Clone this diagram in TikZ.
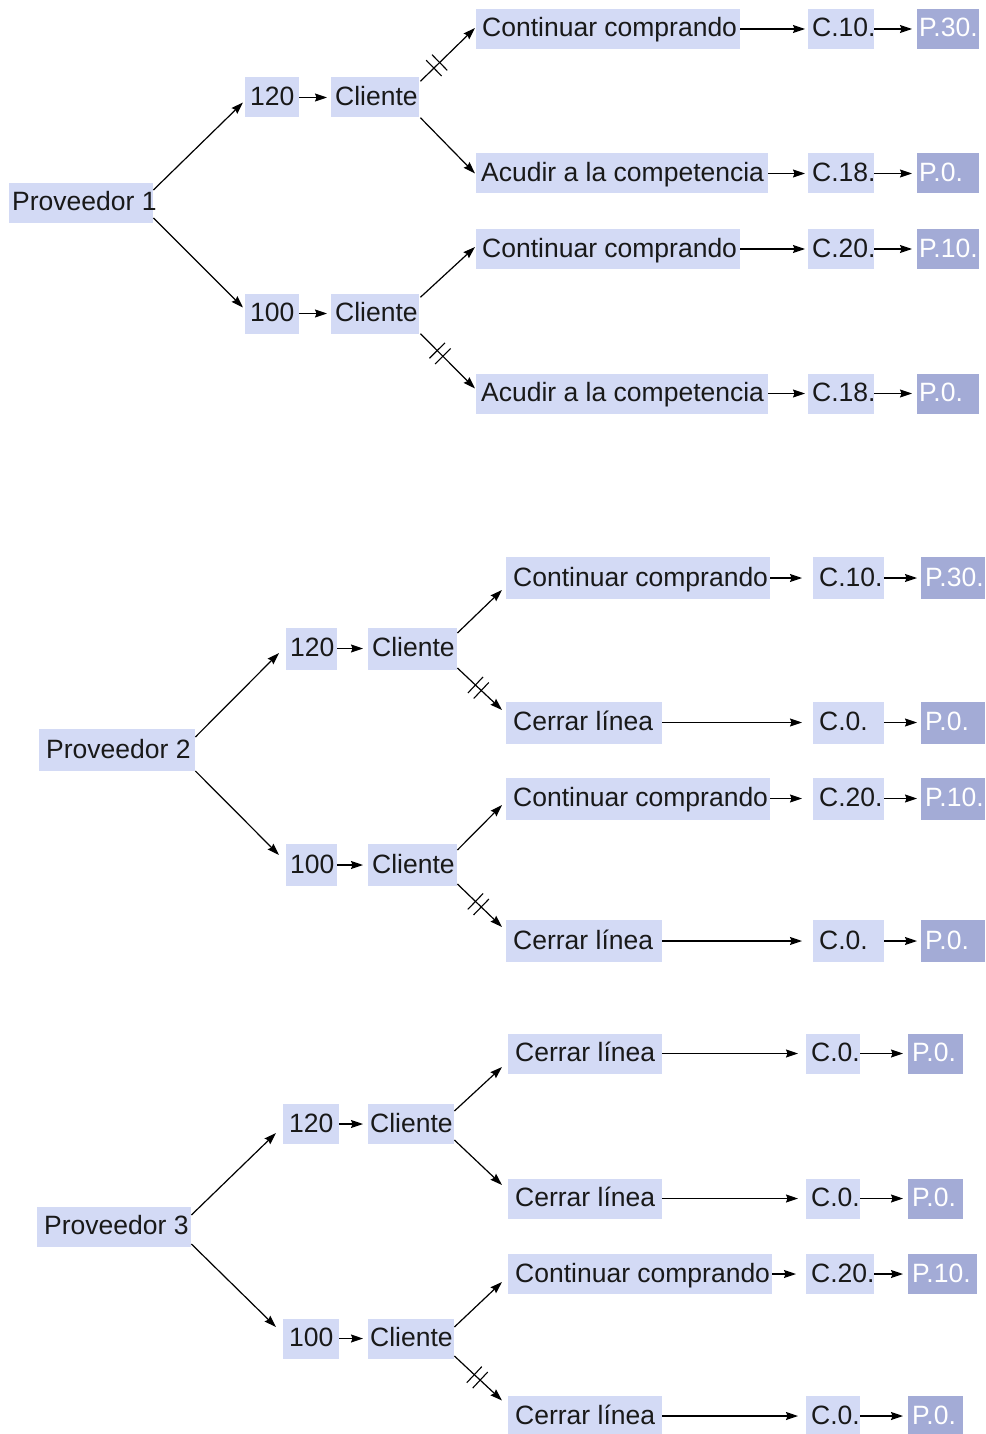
\documentclass[tikz,border=0pt]{standalone}
\usepackage{fontspec}
\setmainfont{Liberation Sans}
\usetikzlibrary{arrows.meta,calc,decorations.markings}
\definecolor{boxc}{RGB}{211,218,245}
\definecolor{pboxc}{RGB}{163,171,214}
\definecolor{txtc}{RGB}{25,25,25}
% #1 padding, #2 name, #3 x, #4 y(center), #5 width, #6 style, #7 text
\newcommand\bx[7][6]{\node[#6, inner xsep=#1pt, minimum width=#5pt] (#2) at (#3,#4) {\hbox to \dimexpr#5pt-#1pt-#1pt\relax{#7\hss}};}
\tikzset{
  box/.style={fill=boxc, anchor=west, inner ysep=0pt, minimum height=40pt,
    text height=20pt, text depth=4pt, text=txtc, font=\fontsize{26.5}{30}\selectfont},
  boxt/.style={box, minimum height=42pt},
  pbox/.style={box, fill=pboxc, text=white},
  pboxt/.style={pbox, minimum height=42pt},
  arr/.style={line width=1.2pt, -{Stealth[length=12pt,width=8pt,inset=1.5pt]}},
  cut/.style={postaction={decorate, decoration={markings, mark=at position #1 with
    {\draw[line width=1.1pt, -, shorten >=0pt, shorten <=0pt] (-4pt,-11pt)--(-4pt,11pt) (4pt,-11pt)--(4pt,11pt);}}}}
}
\begin{document}
\begin{tikzpicture}[x=1pt, y=-1pt]
\fill[white] (0,0) rectangle (985,1434);
\useasboundingbox (0,0) rectangle (985,1434);

% ---------- Tree 1 ----------
\bx[3]{p1}{9}{203}{144}{box}{Proveedor 1}
\bx[5]{a1}{245}{97.5}{54}{box}{120}
\bx[4]{c1}{331}{97.5}{88}{box}{Cliente}
\bx[5]{a2}{245}{313.5}{54}{box}{100}
\bx[4]{c2}{331}{313.5}{88}{box}{Cliente}
\bx[6]{t1}{476}{29}{264}{box}{Continuar comprando}
\bx[5]{t2}{476}{173.5}{292}{box}{Acudir a la competencia}
\bx[6]{t3}{476}{249}{264}{box}{Continuar comprando}
\bx[5]{t4}{476}{393.5}{292}{box}{Acudir a la competencia}
\bx[4]{k1}{808}{29}{66}{box}{C.10.}
\bx[4]{k2}{808}{173.5}{66}{box}{C.18.}
\bx[4]{k3}{808}{249}{66}{box}{C.20.}
\bx[4]{k4}{808}{393.5}{66}{box}{C.18.}
\bx[2]{q1}{917}{29}{62}{pbox}{P.30.}
\bx[2]{q2}{917}{173.5}{62}{pbox}{P.0.}
\bx[2]{q3}{917}{249}{62}{pbox}{P.10.}
\bx[2]{q4}{917}{393.5}{62}{pbox}{P.0.}

\draw[arr] ($(p1.east)+(0,-13)$) -- ($(a1.west)+(-2,5)$);
\draw[arr] ($(p1.east)+(0,15)$) -- ($(a2.west)+(-2,-6)$);
\draw[arr, shorten >=4pt] (a1) -- (c1);
\draw[arr, shorten >=4pt] (a2) -- (c2);
\draw[arr, cut=0.3] ($(c1.north east)+(1,4)$) -- ($(t1.west)+(-1,-1)$);
\draw[arr] ($(c1.south east)+(1,0)$) -- ($(t2.west)+(-1,0)$);
\draw[arr] ($(c2.north east)+(1,4)$) -- ($(t3.west)+(-1,-2)$);
\draw[arr, cut=0.36] ($(c2.south east)+(1,0)$) -- ($(t4.west)+(-1,-5)$);
\draw[arr, shorten >=3pt] (t1) -- (k1);
\draw[arr, shorten >=3pt] (t2) -- (k2);
\draw[arr, shorten >=3pt] (t3) -- (k3);
\draw[arr, shorten >=3pt] (t4) -- (k4);
\draw[arr, shorten >=5pt] (k1) -- (q1);
\draw[arr, shorten >=5pt] (k2) -- (q2);
\draw[arr, shorten >=5pt] (k3) -- (q3);
\draw[arr, shorten >=5pt] (k4) -- (q4);

% ---------- Tree 2 ----------
\bx[7]{p2}{39}{750}{156}{boxt}{Proveedor 2}
\bx[4]{b1}{286}{648.5}{51}{boxt}{120}
\bx[4]{bc1}{368}{648.5}{89}{boxt}{Cliente}
\bx[4]{b2}{286}{865}{51}{boxt}{100}
\bx[4]{bc2}{368}{865}{89}{boxt}{Cliente}
\bx[7]{u1}{506}{578}{264}{boxt}{Continuar comprando}
\bx[7]{u2}{506}{722.5}{156}{boxt}{Cerrar línea}
\bx[7]{u3}{506}{798.5}{264}{boxt}{Continuar comprando}
\bx[7]{u4}{506}{941}{156}{boxt}{Cerrar línea}
\bx[6]{m1}{813}{578}{71}{boxt}{C.10.}
\bx[6]{m2}{813}{722.5}{71}{boxt}{C.0.}
\bx[6]{m3}{813}{798.5}{71}{boxt}{C.20.}
\bx[6]{m4}{813}{941}{71}{boxt}{C.0.}
\bx[4]{n1}{921}{578}{64}{pboxt}{P.30.}
\bx[4]{n2}{921}{722.5}{64}{pboxt}{P.0.}
\bx[4]{n3}{921}{798.5}{64}{pboxt}{P.10.}
\bx[4]{n4}{921}{941}{64}{pboxt}{P.0.}

\draw[arr] ($(p2.east)+(0,-13)$) -- ($(b1.west)+(-7,4.5)$);
\draw[arr] ($(p2.east)+(0,21)$) -- ($(b2.west)+(-7,-10)$);
\draw[arr, shorten >=5pt] (b1) -- (bc1);
\draw[arr, shorten >=5pt] (b2) -- (bc2);
\draw[arr] ($(bc1.east)+(0,-15.5)$) -- ($(u1.west)+(-4,12)$);
\draw[arr, cut=0.47] ($(bc1.east)+(0,19.5)$) -- ($(u2.west)+(-4,-12.5)$);
\draw[arr] ($(bc2.east)+(0,-15)$) -- ($(u3.west)+(-4,6.5)$);
\draw[arr, cut=0.47] ($(bc2.east)+(0,19)$) -- ($(u4.west)+(-4,-14)$);
\draw[arr, shorten >=11pt] (u1) -- (m1);
\draw[arr, shorten >=11pt] (u2) -- (m2);
\draw[arr, shorten >=11pt] (u3) -- (m3);
\draw[arr, shorten >=11pt] (u4) -- (m4);
\draw[arr, shorten >=4pt] (m1) -- (n1);
\draw[arr, shorten >=4pt] (m2) -- (n2);
\draw[arr, shorten >=4pt] (m3) -- (n3);
\draw[arr, shorten >=4pt] (m4) -- (n4);

% ---------- Tree 3 ----------
\bx[7]{p3}{37}{1226.5}{154}{box}{Proveedor 3}
\bx[6]{d1}{283}{1124}{56}{box}{120}
\bx[2]{dc1}{368}{1124}{86}{box}{Cliente}
\bx[6]{d2}{283}{1338.5}{56}{box}{100}
\bx[2]{dc2}{368}{1338.5}{86}{box}{Cliente}
\bx[7]{v1}{508}{1053.5}{154}{box}{Cerrar línea}
\bx[7]{v2}{508}{1198.5}{154}{box}{Cerrar línea}
\bx[7]{v3}{508}{1274}{264}{box}{Continuar comprando}
\bx[7]{v4}{508}{1416}{154}{box}{Cerrar línea}
\bx[5]{w1}{806}{1053.5}{54}{box}{C.0.}
\bx[5]{w2}{806}{1198.5}{54}{box}{C.0.}
\bx[5]{w3}{806}{1274}{68}{box}{C.20.}
\bx[5]{w4}{806}{1416}{54}{box}{C.0.}
\bx[4]{z1}{908}{1053.5}{55}{pbox}{P.0.}
\bx[4]{z2}{908}{1198.5}{55}{pbox}{P.0.}
\bx[4]{z3}{908}{1274}{69}{pbox}{P.10.}
\bx[4]{z4}{908}{1416}{55}{pbox}{P.0.}

\draw[arr] ($(p3.east)+(0,-11.5)$) -- ($(d1.west)+(-7,9)$);
\draw[arr] ($(p3.east)+(0,17.5)$) -- ($(d2.west)+(-7,-11.5)$);
\draw[arr, shorten >=5pt] (d1) -- (dc1);
\draw[arr, shorten >=5pt] (d2) -- (dc2);
\draw[arr] ($(dc1.east)+(0,-13)$) -- ($(v1.west)+(-6,13.5)$);
\draw[arr] ($(dc1.east)+(0,16)$) -- ($(v2.west)+(-6,-13.5)$);
\draw[arr] ($(dc2.east)+(0,-11.5)$) -- ($(v3.west)+(-6,8)$);
\draw[arr, cut=0.48] ($(dc2.east)+(0,17.5)$) -- ($(v4.west)+(-6,-15.5)$);
\draw[arr, shorten >=8pt] (v1) -- (w1);
\draw[arr, shorten >=8pt] (v2) -- (w2);
\draw[arr, shorten >=10pt] (v3) -- (w3);
\draw[arr, shorten >=8pt] (v4) -- (w4);
\draw[arr, shorten >=5pt] (w1) -- (z1);
\draw[arr, shorten >=5pt] (w2) -- (z2);
\draw[arr, shorten >=5pt] (w3) -- (z3);
\draw[arr, shorten >=5pt] (w4) -- (z4);
\end{tikzpicture}
\end{document}
